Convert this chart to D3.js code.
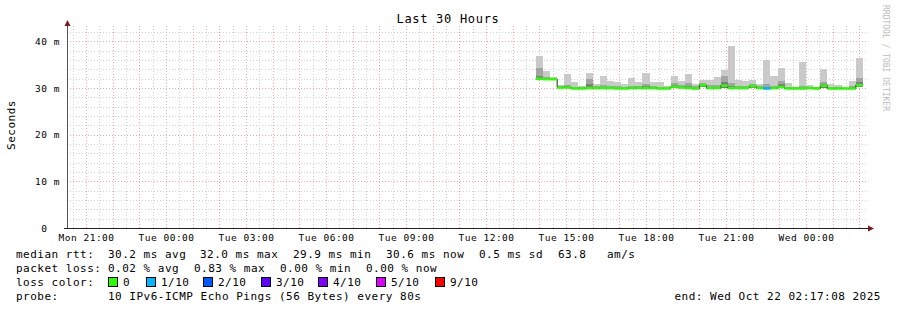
<!DOCTYPE html>
<html>
<head>
<meta charset="utf-8">
<script src="https://cdn.jsdelivr.net/npm/d3@7"></script>
<style>
  body { margin: 0; background: #fff; }
  text { font-family: "DejaVu Sans Mono", monospace; white-space: pre; }
</style>
</head>
<body>
<div id="chart"></div>
<script>
// rrd buckets of 16 minutes, first one starts Tue 13:52 UTC
var firstBucket = "2025-10-21T13:52:00Z";
var bucketMinutes = 16;

// median rtt per bucket (ms)
var median = [32.0, 31.9, 31.9, 30.1, 30.1, 29.9, 29.9, 30.0, 30.0, 30.0,
              30.0, 29.9, 29.9, 30.0, 30.0, 30.0, 30.0, 29.9, 29.9, 30.3,
              30.1, 30.0, 29.9, 30.6, 30.0, 30.0, 30.5, 30.0, 30.0, 30.0,
              30.4, 30.0, 29.9, 30.0, 30.2, 29.9, 29.9, 29.9, 30.0, 29.9,
              30.5, 29.9, 29.9, 29.9, 29.9, 30.6];
// slowest ping per bucket
var maxPing = [36.9, 33.6, 32.4, 30.6, 33.0, 31.2, 30.4, 33.3, 30.9, 32.6,
               31.6, 31.3, 30.9, 32.2, 31.2, 33.3, 31.3, 31.3, 30.5, 32.6,
               31.5, 33.1, 30.9, 31.7, 31.7, 32.4, 33.9, 39.0, 31.7, 31.4,
               31.7, 30.9, 35.9, 32.6, 34.3, 31.1, 30.2, 35.6, 30.6, 30.3,
               34.1, 30.9, 30.6, 30.0, 31.4, 36.5];
// 9th of 10 pings
var ping9 = [34.2, 32.3, 32.2, 30.4, 30.7, 30.3, 30.2, 31.9, 30.4, 30.6,
             30.5, 30.4, 30.3, 30.5, 30.5, 30.9, 30.4, 30.3, 30.2, 31.0,
             30.6, 31.0, 30.4, 31.1, 30.6, 30.7, 32.6, 31.1, 30.5, 30.5,
             30.9, 30.4, 30.8, 30.5, 31.5, 30.3, 30.2, 30.4, 30.3, 30.2,
             31.3, 30.3, 30.3, 30.1, 30.5, 32.1];
// 8th of 10 pings
var ping8 = [32.6, 32.1, 32.1, 30.3, 30.4, 30.1, 30.1, 30.9, 30.2, 30.3,
             30.2, 30.1, 30.1, 30.2, 30.2, 30.4, 30.2, 30.1, 30.1, 30.6,
             30.3, 30.4, 30.1, 30.8, 30.2, 30.3, 31.2, 30.5, 30.2, 30.2,
             30.6, 30.2, 30.2, 30.2, 30.8, 30.1, 30.1, 30.1, 30.2, 30.1,
             30.9, 30.1, 30.1, 30.0, 30.2, 31.3];
// fastest ping per bucket
var minPing = [31.7, 31.7, 31.7, 29.9, 29.9, 29.7, 29.7, 29.8, 29.8, 29.8,
               29.8, 29.7, 29.7, 29.8, 29.8, 29.8, 29.8, 29.7, 29.7, 30.0,
               29.9, 29.8, 29.7, 30.2, 29.8, 29.8, 30.1, 29.8, 29.8, 29.8,
               30.1, 29.8, 29.7, 29.8, 29.9, 29.7, 29.7, 29.7, 29.8, 29.7,
               30.1, 29.7, 29.7, 29.7, 29.7, 30.2];
// loss index per bucket (0 = no loss, 1 = 1/10)
var loss = [0, 0, 0, 0, 0, 0, 0, 0, 0, 0, 0, 0, 0, 0, 0, 0, 0, 0, 0, 0,
            0, 0, 0, 0, 0, 0, 0, 0, 0, 0, 0, 0, 1, 0, 0, 0, 0, 0, 0, 0,
            0, 0, 0, 0, 0, 0];

var lossLabels = ["0", "1/10", "2/10", "3/10", "4/10", "5/10", "9/10"];
var lossColors = ["#26ff00", "#00b8ff", "#0059ff", "#5e00ff", "#7e00ff", "#dd00ff", "#ff0000"];
var yTickValues = [0, 10, 20, 30, 40];

var rttLine = ["median rtt:", "30.2 ms avg", "32.0 ms max", "29.9 ms min", "30.6 ms now", "0.5 ms sd", "63.8", "am/s"];
var rttX = [16, 108, 200, 293, 386, 479, 558, 607];
var lossLine = ["packet loss:", "0.02 % avg", "0.83 % max", "0.00 % min", "0.00 % now"];
var lossX = [16, 108, 194, 280, 366];
var swatchX = [108, 146, 203, 261, 318, 376, 435];

var svgWidth = 897;
var svgHeight = 310;

var svg = d3.select("#chart")
    .append("svg")
    .attr("width", svgWidth)
    .attr("height", svgHeight)
    .style("display", "block");

svg.append("rect").attr("width", svgWidth).attr("height", svgHeight).attr("fill", "#fff");

var endTime = new Date("2025-10-22T02:17:08Z");
var startTime = new Date(endTime.getTime() - 30 * 3600 * 1000);

var x = d3.scaleUtc().domain([startTime, endTime]).range([67, 867]);
var y = d3.scaleLinear().domain([0, 43.07]).range([228, 27]);

var t0 = new Date(firstBucket);
var times = median.map((d, i) => d3.utcMinute.offset(t0, i * bucketMinutes));
var tEnd = d3.utcMinute.offset(t0, median.length * bucketMinutes);
var nextTime = i => i + 1 < times.length ? times[i + 1] : tEnd;

// grid
var grid = svg.append("g");
var majorHours = x.ticks(d3.utcHour.every(1));
var halfHours = x.ticks(d3.utcMinute.every(30)).filter(d => d.getUTCMinutes() === 30);

grid.selectAll(".vminor").data(halfHours).enter().append("line")
    .attr("x1", d => Math.round(x(d)) + 0.5).attr("x2", d => Math.round(x(d)) + 0.5)
    .attr("y1", 26).attr("y2", 228)
    .attr("stroke", "#d2d2d2").attr("stroke-dasharray", "1,2");

var yMinor = y.ticks(20).filter(d => d % 10 !== 0);
grid.selectAll(".hminor").data(yMinor).enter().append("line")
    .attr("x1", 67).attr("x2", 867)
    .attr("y1", d => Math.round(y(d)) + 0.5).attr("y2", d => Math.round(y(d)) + 0.5)
    .attr("stroke", "#d2d2d2").attr("stroke-dasharray", "1,2");

grid.selectAll(".vmajor").data(majorHours).enter().append("line")
    .attr("x1", d => Math.round(x(d)) + 0.5).attr("x2", d => Math.round(x(d)) + 0.5)
    .attr("y1", 26).attr("y2", 228)
    .attr("stroke", "#f3a3a3").attr("stroke-dasharray", "1,2");

grid.selectAll(".hmajor").data(yTickValues.filter(d => d > 0)).enter().append("line")
    .attr("x1", 67).attr("x2", 867)
    .attr("y1", d => Math.round(y(d)) + 0.5).attr("y2", d => Math.round(y(d)) + 0.5)
    .attr("stroke", "#f3a3a3").attr("stroke-dasharray", "1,2");

// smoke
var plot = svg.append("g");
function band(lo, hi, color) {
    plot.append("g").selectAll("rect")
        .data(times).enter().append("rect")
        .attr("x", (d, i) => x(d))
        .attr("width", (d, i) => x(nextTime(i)) - x(d))
        .attr("y", (d, i) => y(hi[i]))
        .attr("height", (d, i) => y(lo[i]) - y(hi[i]))
        .attr("fill", color)
        .attr("shape-rendering", "crispEdges");
}
band(minPing, maxPing, "#cacaca");
band(minPing, ping9, "#a4a4a4");
band(minPing, ping8, "#7e7e7e");

// median step line
var steps = times.map((d, i) => [d, median[i]]).concat([[tEnd, median[median.length - 1]]]);
plot.append("path")
    .datum(steps)
    .attr("fill", "none")
    .attr("stroke", "#202020")
    .attr("stroke-width", 1)
    .attr("d", d3.line().x(d => x(d[0])).y(d => y(d[1])).curve(d3.curveStepAfter));

// median coloured by loss
plot.append("g").selectAll("rect")
    .data(times).enter().append("rect")
    .attr("x", d => x(d))
    .attr("width", (d, i) => x(nextTime(i)) - x(d))
    .attr("y", (d, i) => y(median[i]) - 1.3)
    .attr("height", 2.6)
    .attr("fill", (d, i) => lossColors[loss[i]]);

// axes
var bottomAxis = d3.axisBottom(x)
    .ticks(d3.utcHour.every(3))
    .tickFormat(d3.utcFormat("%a %H:%M"))
    .tickSize(0)
    .tickPadding(6);
var xAxisG = svg.append("g").attr("transform", "translate(0,228)").call(bottomAxis);
xAxisG.select(".domain").remove();
xAxisG.selectAll("text")
    .style("font-family", "DejaVu Sans Mono")
    .style("font-size", "9.5px")
    .style("letter-spacing", "0.5px")
    .attr("fill", "#000");

var leftAxis = d3.axisLeft(y)
    .tickValues(yTickValues)
    .tickFormat(d => d ? d + " m" : "0  ")
    .tickSize(0)
    .tickPadding(7);
var yAxisG = svg.append("g").attr("transform", "translate(67,0)").call(leftAxis);
yAxisG.select(".domain").remove();
yAxisG.selectAll("text")
    .style("font-family", "DejaVu Sans Mono")
    .style("font-size", "9.5px")
    .style("letter-spacing", "0.5px")
    .attr("fill", "#000");

// axis lines and arrows
svg.append("line").attr("x1", 67.5).attr("x2", 67.5).attr("y1", 24).attr("y2", 228.5)
    .attr("stroke", "#555");
svg.append("line").attr("x1", 64).attr("x2", 870).attr("y1", 228.5).attr("y2", 228.5)
    .attr("stroke", "#222");
svg.append("path").attr("d", "M64.5,26L67.5,20L70.5,26Z").attr("fill", "#7a1a1a");
svg.append("path").attr("d", "M868,225.5L874,228.5L868,231.5Z").attr("fill", "#7a1a1a");

// title
svg.append("text")
    .attr("x", 448).attr("y", 23)
    .attr("text-anchor", "middle")
    .style("font-size", "12px")
    .style("letter-spacing", "0.7px")
    .text("Last 30 Hours");

// y label
svg.append("text")
    .attr("transform", "translate(15,125) rotate(-90)")
    .attr("text-anchor", "middle")
    .style("font-size", "11px")
    .style("letter-spacing", "0.5px")
    .text("Seconds");

// watermark
svg.append("text")
    .attr("transform", "translate(883,5) rotate(90)")
    .style("font-size", "8px")
    .attr("fill", "#bcbcbc")
    .text("RRDTOOL / TOBI OETIKER");

// legend
var legend = svg.append("g")
    .style("font-size", "11px")
    .style("letter-spacing", "0.5px");

legend.selectAll(".rtt").data(rttLine).enter().append("text")
    .attr("x", (d, i) => rttX[i]).attr("y", 258).text(d => d);
legend.selectAll(".pl").data(lossLine).enter().append("text")
    .attr("x", (d, i) => lossX[i]).attr("y", 272).text(d => d);
legend.append("text").attr("x", 16).attr("y", 286).text("loss color:");
legend.selectAll(".sw").data(lossColors).enter().append("rect")
    .attr("x", (d, i) => swatchX[i] + 0.5).attr("y", 277.5)
    .attr("width", 9).attr("height", 9)
    .attr("fill", d => d).attr("stroke", "#000");
legend.selectAll(".swl").data(lossLabels).enter().append("text")
    .attr("x", (d, i) => swatchX[i] + 15).attr("y", 286).text(d => d);
legend.append("text").attr("x", 16).attr("y", 300).text("probe:");
legend.append("text").attr("x", 108).attr("y", 300).text("10 IPv6-ICMP Echo Pings (56 Bytes) every 80s");
legend.append("text").attr("x", 881).attr("y", 300).attr("text-anchor", "end")
    .text("end: Wed Oct 22 02:17:08 2025");
</script>
</body>
</html>
